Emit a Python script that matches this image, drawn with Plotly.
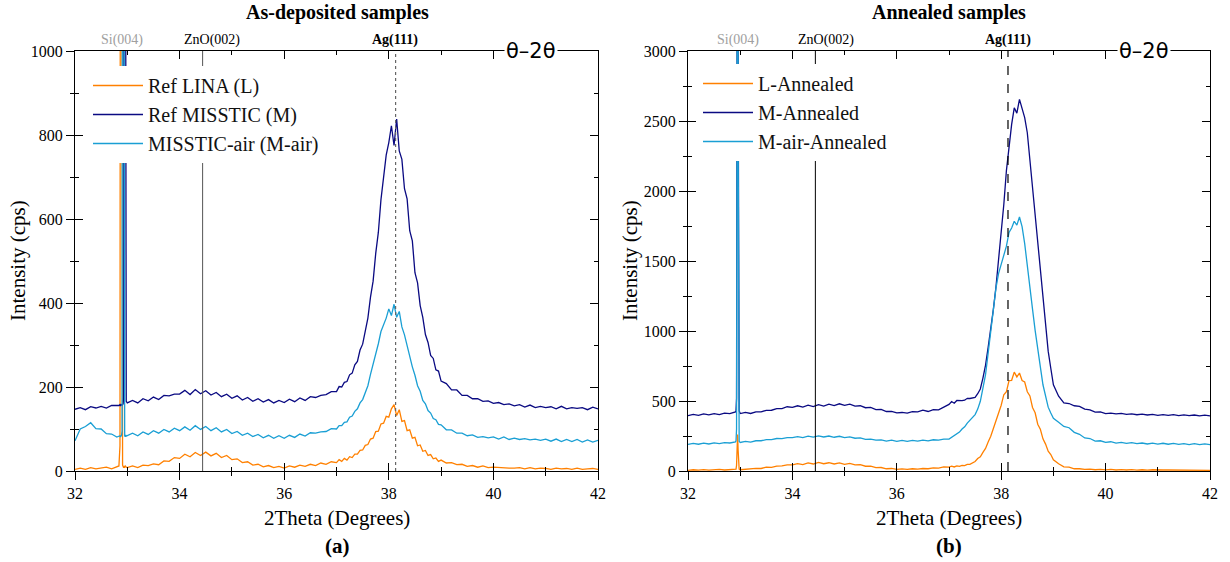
import plotly.graph_objects as go

# ---------------- data ----------------
two_theta = [
    32.0, 32.1, 32.2, 32.3, 32.4, 32.5, 32.6, 32.7, 32.8,
    32.84, 32.86, 32.87, 32.88, 32.89, 32.90, 32.91, 32.92, 32.93, 32.94, 32.95, 32.96, 32.97, 32.98,
    33.0, 33.1, 33.2, 33.3, 33.4, 33.5, 33.6, 33.7, 33.8, 33.9,
    34.0, 34.1, 34.2, 34.3, 34.4, 34.5, 34.6, 34.7, 34.8, 34.9,
    35.0, 35.1, 35.2, 35.3, 35.4, 35.5, 35.6, 35.7, 35.8, 35.9,
    36.0, 36.1, 36.2, 36.3, 36.4, 36.5, 36.6, 36.7, 36.8, 36.9,
    37.0, 37.05, 37.1, 37.15, 37.2, 37.25, 37.3, 37.35, 37.4, 37.45,
    37.5, 37.55, 37.6, 37.65, 37.7, 37.75, 37.8, 37.85, 37.9, 37.95,
    38.0, 38.05, 38.1, 38.15, 38.2, 38.25, 38.3, 38.35, 38.4, 38.45,
    38.5, 38.55, 38.6, 38.65, 38.7, 38.75, 38.8, 38.85, 38.9, 38.95,
    39.0, 39.1, 39.2, 39.3, 39.4, 39.5, 39.6, 39.7, 39.8, 39.9,
    40.0, 40.1, 40.2, 40.3, 40.4, 40.5, 40.6, 40.7, 40.8, 40.9,
    41.0, 41.1, 41.2, 41.3, 41.4, 41.5, 41.6, 41.7, 41.8, 41.9, 42.0,
]

# As-deposited
dep_L = [
    4, 7, 4, 8, 5, 7, 9, 5, 9,
    12, 60, 2000, 4000, 2000, 60, 14, 11, 8, 10, 9, 12, 10, 9,
    8, 12, 8, 14, 13, 17, 15, 24, 23, 32,
    30, 40, 34, 44, 37, 45, 36, 42, 32, 37,
    27, 29, 20, 22, 14, 16, 10, 13, 8, 11,
    7, 12, 9, 14, 11, 16, 13, 19, 16, 22,
    20, 27, 23, 30, 26, 34, 32, 40, 40, 49,
    50, 61, 63, 76, 78, 94, 95, 112, 114, 130,
    128, 148, 158, 132, 146, 118, 120, 96, 98, 78,
    80, 60, 62, 47, 49, 37, 39, 29, 31, 23,
    26, 19, 20, 15, 16, 11, 13, 9, 12, 8,
    9, 8, 8, 7, 7, 8, 5, 8, 5, 7,
    6, 4, 7, 5, 6, 4, 7, 4, 5, 6, 4,
]
dep_M = [
    147, 151, 146, 153, 150, 154, 150, 156, 156,
    156, 158, 155, 157, 159, 156, 158, 160, 175, 2000, 4000, 2000, 175, 166,
    162, 168, 162, 172, 167, 176, 170, 180, 179, 183,
    183, 192, 182, 194, 184, 191, 181, 187, 177, 183,
    173, 179, 169, 175, 166, 172, 164, 170, 162, 168,
    163, 171, 165, 174, 168, 177, 175, 180, 182, 189,
    189, 201, 200, 211, 213, 229, 233, 253, 261, 288,
    302, 338, 364, 414, 452, 518, 568, 646, 694, 752,
    782, 822, 775, 838, 762, 742, 672, 648, 572, 548,
    472, 448, 394, 366, 325, 306, 275, 268, 241, 238,
    214, 208, 193, 193, 180, 180, 172, 172, 166, 167,
    161, 163, 158, 160, 155, 158, 152, 157, 151, 154,
    151, 153, 148, 154, 148, 151, 149, 151, 146, 152, 148,
]
dep_Mair = [
    72, 100, 106, 115, 101, 100, 89, 88, 81,
    82, 84, 81, 83, 85, 95, 2000, 4000, 2000, 95, 84, 82, 86, 83,
    84, 90, 84, 93, 87, 96, 90, 99, 93, 102,
    96, 105, 97, 108, 99, 106, 96, 103, 93, 99,
    89, 94, 85, 90, 82, 87, 79, 85, 78, 84,
    78, 85, 80, 88, 83, 91, 90, 93, 94, 101,
    100, 108, 108, 116, 117, 128, 131, 142, 148, 162,
    170, 188, 203, 230, 253, 282, 303, 332, 346, 364,
    386, 370, 397, 366, 380, 343, 324, 298, 274, 248,
    228, 203, 190, 168, 160, 144, 138, 125, 122, 111,
    110, 98, 98, 90, 90, 84, 86, 80, 82, 79,
    81, 76, 81, 75, 78, 75, 77, 74, 76, 73,
    76, 71, 76, 70, 75, 70, 75, 69, 74, 69, 73,
]

# Annealed
ann_L = [
    5, 9, 6, 10, 6, 9, 11, 7, 10,
    9, 8, 10, 9, 11, 10, 12, 14, 40, 150, 260, 150, 40, 14,
    9, 13, 13, 19, 18, 27, 26, 35, 36, 44,
    44, 53, 46, 58, 50, 61, 52, 59, 50, 58,
    48, 55, 44, 45, 34, 35, 24, 25, 16, 18,
    11, 15, 12, 16, 14, 18, 16, 23, 21, 29,
    28, 35, 29, 37, 33, 40, 38, 47, 48, 61,
    68, 89, 102, 133, 161, 207, 248, 303, 354, 418,
    470, 545, 566, 646, 648, 706, 672, 700, 646, 636,
    566, 536, 454, 416, 334, 298, 230, 192, 141, 118,
    80, 52, 30, 27, 16, 16, 11, 13, 9, 12,
    8, 11, 7, 10, 7, 10, 6, 9, 6, 9,
    6, 7, 7, 7, 6, 7, 6, 6, 6, 7, 5,
]
ann_M = [
    396, 404, 398, 408, 401, 410, 403, 413, 410,
    414, 412, 416, 415, 418, 420, 422, 430, 520, 3000, 9000, 3000, 520, 430,
    410, 418, 411, 423, 423, 433, 434, 446, 446, 459,
    455, 466, 457, 470, 460, 474, 463, 478, 467, 480,
    469, 478, 463, 466, 452, 454, 439, 440, 425, 426,
    415, 418, 413, 424, 422, 434, 425, 438, 437, 459,
    476, 496, 484, 504, 501, 502, 506, 519, 518, 522,
    526, 552, 586, 664, 756, 884, 1006, 1154, 1316, 1504,
    1696, 1904, 2146, 2324, 2476, 2594, 2556, 2654, 2586, 2524,
    2416, 2224, 2006, 1824, 1616, 1424, 1216, 1034, 856, 734,
    616, 534, 486, 482, 466, 462, 442, 436, 421, 422,
    410, 414, 408, 411, 405, 408, 402, 406, 400, 404,
    398, 403, 397, 402, 396, 401, 395, 400, 394, 399, 393,
]
ann_Mair = [
    190, 197, 191, 199, 193, 201, 195, 202, 200,
    203, 201, 204, 202, 205, 206, 208, 215, 300, 2500, 8000, 2500, 300, 212,
    204, 212, 206, 216, 216, 224, 224, 232, 231, 239,
    238, 245, 239, 249, 242, 251, 243, 250, 241, 248,
    238, 244, 234, 236, 226, 228, 220, 222, 214, 220,
    212, 218, 211, 219, 213, 221, 215, 223, 220, 228,
    228, 240, 248, 264, 278, 300, 316, 342, 363, 387,
    403, 442, 498, 592, 688, 842, 998, 1172, 1308, 1412,
    1478, 1544, 1606, 1704, 1736, 1784, 1756, 1814, 1746, 1624,
    1456, 1304, 1156, 1004, 856, 744, 616, 534, 456, 414,
    376, 349, 318, 309, 276, 262, 236, 232, 214, 216,
    204, 209, 199, 204, 197, 202, 195, 200, 193, 199,
    192, 198, 191, 197, 190, 196, 189, 195, 188, 194, 189,
]

for s in (dep_L, dep_M, dep_Mair, ann_L, ann_M, ann_Mair):
    assert len(s) == len(two_theta), len(s)

names_dep = ["Ref LINA (L)", "Ref MISSTIC (M)", "MISSTIC-air (M-air)"]
names_ann = ["L-Annealed", "M-Annealed", "M-air-Annealed"]
colors = ["#ff8000", "#0a0a82", "#1a9fd4"]

peak_labels = ["Si(004)", "ZnO(002)", "Ag(111)"]
peak_label_pos_dep = [32.9, 34.62, 38.12]
peak_label_pos_ann = [32.95, 34.64, 38.13]
zno_line = 34.44
ag_line = 38.13

# ---------------- figure ----------------
W, H = 1230, 562


def px(xp):
    return xp / W


def py(yp):
    return 1 - yp / H


SERIF = "Liberation Serif"
fig = go.Figure()

for ys, nm, c in zip([dep_L, dep_M, dep_Mair], names_dep, colors):
    fig.add_trace(go.Scatter(x=two_theta, y=ys, mode="lines", name=nm,
                             line=dict(color=c, width=1.3), xaxis="x", yaxis="y",
                             legend="legend"))
for ys, nm, c in zip([ann_L, ann_M, ann_Mair], names_ann, colors):
    fig.add_trace(go.Scatter(x=two_theta, y=ys, mode="lines", name=nm,
                             line=dict(color=c, width=1.3), xaxis="x2", yaxis="y2",
                             legend="legend2"))
# empty traces to activate overlay (inside-tick) axes
fig.add_trace(go.Scatter(x=[], y=[], xaxis="x3", yaxis="y3", showlegend=False))
fig.add_trace(go.Scatter(x=[], y=[], xaxis="x4", yaxis="y4", showlegend=False))

XD1 = [px(75), px(598)]
XD2 = [px(688), px(1210)]
YD = [py(471), py(51)]

tickfont = dict(family=SERIF, size=16, color="black")


def xax(domain, anchor, outside=True, overlay=None):
    d = dict(range=[32, 42], tick0=32, dtick=2, showgrid=False, zeroline=False,
             automargin=False,
             tickcolor="black", tickwidth=1.3, ticklen=8, tickfont=tickfont,
             minor=dict(ticks="outside" if outside else "inside", ticklen=4,
                        tick0=32, dtick=1, tickcolor="black", tickwidth=1.3),
             anchor=anchor, domain=domain)
    if outside:
        d.update(ticks="outside", showline=True, linecolor="black",
                 linewidth=1.3, mirror=True)
    else:
        d.update(ticks="inside", showline=False, mirror="ticks",
                 showticklabels=False, overlaying=overlay)
    return d


def yax(domain, anchor, rng, dt, mdt, outside=True, overlay=None):
    d = dict(range=rng, tick0=0, dtick=dt, showgrid=False, zeroline=False,
             automargin=False,
             tickcolor="black", tickwidth=1.3, ticklen=8, tickfont=tickfont,
             minor=dict(ticks="outside" if outside else "inside", ticklen=4,
                        tick0=0, dtick=mdt, tickcolor="black", tickwidth=1.3),
             anchor=anchor, domain=domain)
    if outside:
        d.update(ticks="outside", showline=True, linecolor="black",
                 linewidth=1.3, mirror=True)
    else:
        d.update(ticks="inside", showline=False, mirror="ticks",
                 showticklabels=False, overlaying=overlay)
    return d


fig.update_layout(
    width=W, height=H,
    margin=dict(l=0, r=0, t=0, b=0, autoexpand=False),
    paper_bgcolor="white", plot_bgcolor="white",
    font=dict(family=SERIF, color="black"),
    xaxis=xax(XD1, "y"),
    yaxis=yax(YD, "x", [0, 1000], 200, 100),
    xaxis2=xax(XD2, "y2"),
    yaxis2=yax(YD, "x2", [0, 3000], 500, 250),
    xaxis3=xax(XD1, "y", outside=False, overlay="x"),
    yaxis3=yax(YD, "x", [0, 1000], 200, 100, outside=False, overlay="y"),
    xaxis4=xax(XD2, "y2", outside=False, overlay="x2"),
    yaxis4=yax(YD, "x2", [0, 3000], 500, 250, outside=False, overlay="y2"),
    legend=dict(x=px(88), y=py(66), xanchor="left", yanchor="top",
                bgcolor="white", borderwidth=0, itemwidth=50,
                font=dict(family=SERIF, size=20, color="#111")),
    legend2=dict(x=px(698), y=py(64), xanchor="left", yanchor="top",
                 bgcolor="white", borderwidth=0, itemwidth=50,
                 font=dict(family=SERIF, size=20, color="#111")),
    showlegend=True,
)

shapes = []
for xr, zc, ac, dash in (("x", "#555555", "#666666", "dot"), ("x2", "black", "black", "dash")):
    shapes.append(dict(type="line", xref=xr, yref=f"{'y' if xr == 'x' else 'y2'} domain",
                       x0=zno_line, x1=zno_line, y0=0, y1=1,
                       line=dict(color=zc, width=1)))
    shapes.append(dict(type="line", xref=xr, yref=f"{'y' if xr == 'x' else 'y2'} domain",
                       x0=ag_line, x1=ag_line, y0=0, y1=1,
                       line=dict(color=ac, width=1.2, dash=dash)))
fig.update_layout(shapes=shapes)

ann = []
label_y = py(40)
for xr, pos in (("x", peak_label_pos_dep), ("x2", peak_label_pos_ann)):
    for lab, p in zip(peak_labels, pos):
        txt = lab
        col = "black"
        if lab.startswith("Si"):
            col = "#a0a0a0"
        if lab.startswith("Ag"):
            txt = f"<b>{lab}</b>"
        ann.append(dict(x=p, y=label_y, xref=xr, yref="paper", text=txt,
                        showarrow=False, font=dict(family=SERIF, size=14, color=col),
                        xanchor="center", yanchor="middle"))

for cx, title, tag in ((337, "As-deposited samples", "(a)"), (949, "Annealed samples", "(b)")):
    ann.append(dict(x=px(cx), y=py(12), xref="paper", yref="paper",
                    text=f"<b>{title}</b>", showarrow=False,
                    font=dict(family=SERIF, size=20, color="black"),
                    xanchor="center", yanchor="middle"))
    ann.append(dict(x=px(cx), y=py(518), xref="paper", yref="paper",
                    text="2Theta (Degrees)", showarrow=False,
                    font=dict(family=SERIF, size=21, color="black"),
                    xanchor="center", yanchor="middle"))
    ann.append(dict(x=px(cx), y=py(546), xref="paper", yref="paper",
                    text=f"<b>{tag}</b>", showarrow=False,
                    font=dict(family=SERIF, size=21, color="black"),
                    xanchor="center", yanchor="middle"))

for ax_x in (18, 630):
    ann.append(dict(x=px(ax_x), y=py(261), xref="paper", yref="paper",
                    text="Intensity (cps)", textangle=-90, showarrow=False,
                    font=dict(family=SERIF, size=21, color="black"),
                    xanchor="center", yanchor="middle"))

for tx in (531, 1144):
    ann.append(dict(x=px(tx), y=YD[1], xref="paper", yref="paper",
                    text="θ–2θ", showarrow=False, bgcolor="white",
                    font=dict(family="DejaVu Sans", size=21, color="black"),
                    xanchor="center", yanchor="middle", borderpad=1))

fig.update_layout(annotations=ann)

fig.write_html(
    "out.html",
    config={"displayModeBar": False},
    post_script="document.body.style.margin='0';document.body.style.padding='0';",
)
